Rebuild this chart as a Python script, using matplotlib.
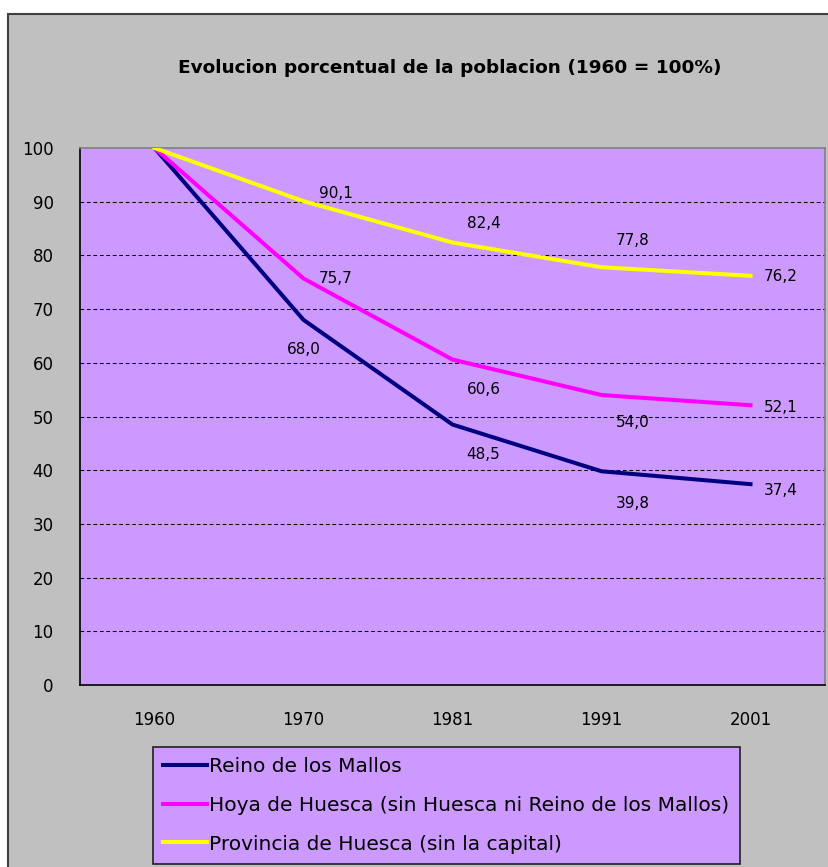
import matplotlib
matplotlib.use('Agg')
import matplotlib.pyplot as plt
from matplotlib.patches import Rectangle

plt.rcParams['font.family'] = ['DejaVu Sans']

years = ['1960', '1970', '1981', '1991', '2001']
reino = [100, 68.0, 48.5, 39.8, 37.4]
hoya = [100, 75.7, 60.6, 54.0, 52.1]
provincia = [100, 90.1, 82.4, 77.8, 76.2]

names = ['Reino de los Mallos',
         'Hoya de Huesca (sin Huesca ni Reino de los Mallos)',
         'Provincia de Huesca (sin la capital)']
colors = ['#000080', '#ff00ff', '#ffff00']

# label offsets in pixels (first point has no label)
offs_reino = [None, (0, -30), (31, -30), (31, -32), (30, -6)]
offs_hoya = [None, (32, 0), (31, -30), (31, -27), (30, -2)]
offs_prov = [None, (32, 8), (31, 19), (31, 27), (30, -1)]

W, H = 829, 867
fig = plt.figure(figsize=(W / 100, H / 100), dpi=100)
fig.patch.set_facecolor('white')

# grey chart frame
fig.patches.append(Rectangle((8 / W, -0.1), 1.2, 1.1 - 14 / H, transform=fig.transFigure,
                             facecolor='#c0c0c0', edgecolor='#404040', lw=1.5, zorder=-10))

ax = fig.add_axes([80 / W, 1 - 685 / H, 745 / W, 537 / H])
ax.set_zorder(1)
ax.set_facecolor('#cc99ff')

x = range(len(years))
series = [reino, hoya, provincia]
offsets = [offs_reino, offs_hoya, offs_prov]
for vals, col, name, offs in zip(series, colors, names, offsets):
    ax.plot(x, vals, color=col, lw=2.9, label=name, solid_joinstyle='round', zorder=3)
    for i, v in enumerate(vals):
        if offs[i] is None:
            continue
        ax.annotate(f'{v:.1f}'.replace('.', ','), (i, v), xytext=offs[i],
                    textcoords='offset pixels', ha='center', va='center',
                    fontsize=11, color='black', zorder=4)

ax.set_xlim(-0.5, len(years) - 0.5)
ax.set_ylim(0, 100)
ax.set_xticks(list(x))
ax.set_xticklabels(years)
ax.set_yticks(range(0, 101, 10))
ax.tick_params(axis='both', length=0, labelsize=12)
ax.tick_params(axis='y', pad=19)
ax.tick_params(axis='x', pad=19)

for yv in range(10, 100, 10):
    ax.axhline(yv, color='black', lw=0.75, ls=(0, (3.6, 2.6)), zorder=1)

ax.spines['left'].set_color('black')
ax.spines['bottom'].set_color('black')
ax.spines['top'].set_color('#808080')
ax.spines['right'].set_color('#808080')
for s in ax.spines.values():
    s.set_linewidth(1.2)

fig.text(450 / W, 1 - 68 / H, 'Evolucion porcentual de la poblacion (1960 = 100%)',
         ha='center', va='center', fontsize=13.3, fontweight='bold', zorder=5)

leg = ax.legend(loc='upper left', bbox_to_anchor=(153 / W, 1 - 747 / H),
                bbox_transform=fig.transFigure, borderaxespad=0, fontsize=14.5,
                handlelength=2.2, handletextpad=0.1, labelspacing=0.98,
                borderpad=0.5, fancybox=False, framealpha=1)
leg.get_frame().set_facecolor('#cc99ff')
leg.get_frame().set_edgecolor('#202020')
leg.get_frame().set_linewidth(1.2)

fig.savefig('out.png', dpi=100)
